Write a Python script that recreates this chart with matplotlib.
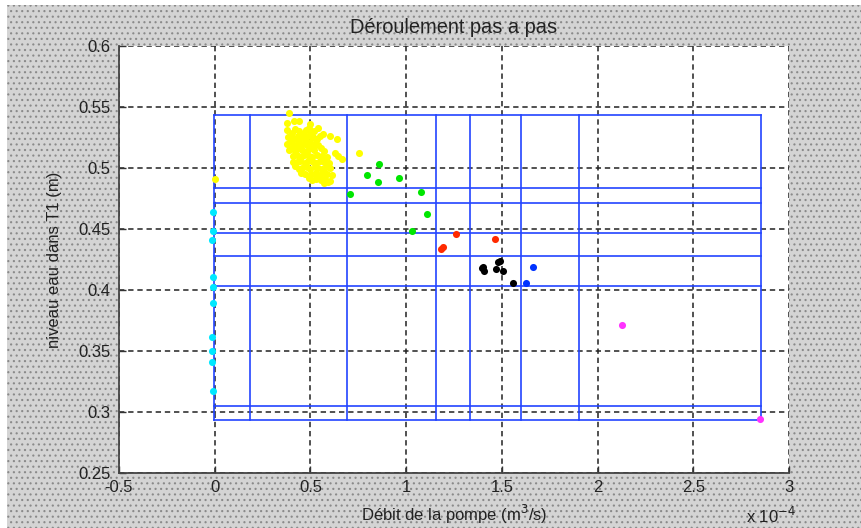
import matplotlib
matplotlib.use("Agg")
import matplotlib.pyplot as plt
from matplotlib.patches import Rectangle

plt.rcParams["font.family"] = ["Liberation Sans", "DejaVu Sans"]
plt.rcParams["font.size"] = 12
plt.rcParams["hatch.linewidth"] = 0.8

# x values are in units of 1e-4 m3/s
grid_x = [-0.005, 0.184, 0.693, 1.155, 1.334, 1.599, 1.903, 2.853]
grid_y = [0.2934, 0.3049, 0.4035, 0.4279, 0.4465, 0.4716, 0.4833, 0.5437]

yellow_x = [0.0, 0.39, 0.379, 0.414, 0.442, 0.498, 0.494, 0.541, 0.567, 0.602, 0.637,
            0.533, 0.628, 0.646, 0.667, 0.755, 0.594, 0.524,
            0.38, 0.402, 0.418, 0.441, 0.462, 0.478, 0.503, 0.517,
            0.383, 0.393, 0.412, 0.433, 0.449, 0.472, 0.488, 0.512, 0.528, 0.548,
            0.377, 0.398, 0.423, 0.438, 0.461, 0.483, 0.497, 0.523, 0.541,
            0.386, 0.404, 0.419, 0.443, 0.458, 0.481, 0.502, 0.518, 0.553, 0.571,
            0.408, 0.432, 0.452, 0.468, 0.493, 0.508, 0.532, 0.562, 0.588,
            0.428, 0.447, 0.473, 0.489, 0.512, 0.527, 0.551, 0.573, 0.598,
            0.458, 0.482, 0.497, 0.522, 0.538, 0.561, 0.582, 0.603,
            0.503, 0.531, 0.548, 0.572, 0.589, 0.612,
            0.553, 0.578, 0.601,
            0.410, 0.420, 0.440, 0.450, 0.470, 0.490, 0.510, 0.530, 0.570]
yellow_y = [0.4907, 0.5448, 0.537, 0.5385, 0.5385, 0.536, 0.5325, 0.5325, 0.528, 0.526, 0.5235,
            0.5235, 0.512, 0.510, 0.507, 0.5125, 0.4885, 0.495,
            0.531, 0.529, 0.532, 0.530, 0.528, 0.531, 0.529, 0.530,
            0.525, 0.526, 0.524, 0.526, 0.525, 0.524, 0.526, 0.525, 0.524, 0.526,
            0.520, 0.521, 0.519, 0.521, 0.520, 0.519, 0.521, 0.520, 0.519,
            0.515, 0.516, 0.514, 0.516, 0.515, 0.514, 0.516, 0.515, 0.516, 0.514,
            0.510, 0.511, 0.509, 0.511, 0.510, 0.509, 0.511, 0.510, 0.509,
            0.505, 0.506, 0.504, 0.506, 0.505, 0.504, 0.506, 0.505, 0.504,
            0.500, 0.501, 0.499, 0.501, 0.500, 0.499, 0.501, 0.500,
            0.495, 0.496, 0.494, 0.496, 0.495, 0.494,
            0.490, 0.491, 0.489,
            0.505, 0.502, 0.499, 0.496, 0.495, 0.492, 0.490, 0.491, 0.488]

cyan_x = [-0.007, -0.007, -0.016, -0.007, -0.007, -0.007, -0.012, -0.012, -0.016, -0.007]
cyan_y = [0.4642, 0.4484, 0.4410, 0.4109, 0.4027, 0.3891, 0.3617, 0.3502, 0.3412, 0.3175]

green_x = [0.707, 0.794, 0.851, 0.860, 0.964, 1.076, 1.109, 1.029]
green_y = [0.4787, 0.4943, 0.4888, 0.5033, 0.4920, 0.4806, 0.4623, 0.4484]

red_x = [1.261, 1.464, 1.182, 1.195]
red_y = [0.4459, 0.4418, 0.4333, 0.4350]

black_x = [1.403, 1.407, 1.398, 1.482, 1.470, 1.505, 1.557, 1.490]
black_y = [0.4191, 0.4158, 0.4178, 0.4227, 0.4172, 0.4158, 0.4060, 0.4235]

blue_x = [1.665, 1.626]
blue_y = [0.4191, 0.4060]

magenta_x = [2.126, 2.849]
magenta_y = [0.3710, 0.2940]

fig = plt.figure(figsize=(8.61, 5.28), dpi=100)
fig.patch.set_facecolor("white")
bg = Rectangle((7 / 861, 0), 1, 1 - 5 / 528, transform=fig.transFigure,
               facecolor="#d4d4d4", edgecolor="#8a8a8a", hatch="...",
               linewidth=0, zorder=-10)
fig.patches.append(bg)

ax = fig.add_axes([0.1382, 0.1042, 0.7782, 0.8087])
ax.set_facecolor("white")

# blue rectangle grid
for gx in grid_x:
    ax.plot([gx, gx], [grid_y[0], grid_y[-1]], color="#2244ff", lw=1.2, zorder=2)
for gy in grid_y:
    ax.plot([grid_x[0], grid_x[-1]], [gy, gy], color="#2244ff", lw=1.2, zorder=2)

ms = 26
ax.scatter(yellow_x, yellow_y, s=ms, color="#ffff00", linewidths=0, zorder=3)
ax.scatter(cyan_x, cyan_y, s=ms, color="#00e8ff", linewidths=0, zorder=3)
ax.scatter(green_x, green_y, s=ms, color="#00e600", linewidths=0, zorder=3)
ax.scatter(red_x, red_y, s=ms, color="#ff2a00", linewidths=0, zorder=3)
ax.scatter(black_x, black_y, s=ms, color="black", linewidths=0, zorder=3)
ax.scatter(blue_x, blue_y, s=ms, color="#0033ff", linewidths=0, zorder=3)
ax.scatter(magenta_x, magenta_y, s=ms, color="#ff33ff", linewidths=0, zorder=3)

ax.set_xlim(-0.5, 3)
ax.set_ylim(0.25, 0.6)
xt = [-0.5, 0, 0.5, 1, 1.5, 2, 2.5, 3]
yt = [0.25, 0.3, 0.35, 0.4, 0.45, 0.5, 0.55, 0.6]
ax.set_xticks(xt)
ax.set_xticklabels(["%g" % v for v in xt])
ax.set_yticks(yt)
ax.set_yticklabels(["%g" % v for v in yt])
ax.tick_params(direction="in", length=5, width=1, colors="#333333",
               labelcolor="#222222")
ax.tick_params(axis="x", pad=5)
ax.tick_params(axis="y", pad=6)
ax.grid(True, color="#222222", linestyle=(0, (3.5, 2.5)), linewidth=1.1, zorder=1)
ax.set_axisbelow(True)
for side in ["top", "right"]:
    ax.spines[side].set_visible(False)
for side in ["left", "bottom"]:
    ax.spines[side].set_color("#444444")
    ax.spines[side].set_linewidth(1.3)

ax.set_title("Déroulement pas a pas", pad=9, color="#222222")
ax.set_xlabel("Débit de la pompe (m$^3$/s)", labelpad=6, color="#222222")
ax.set_ylabel("niveau eau dans T1 (m)", labelpad=12, color="#222222")
fig.text(0.866, 0.010, "x 10$^{-4}$", color="#222222")

fig.savefig("out.png", dpi=100, facecolor=fig.get_facecolor())
